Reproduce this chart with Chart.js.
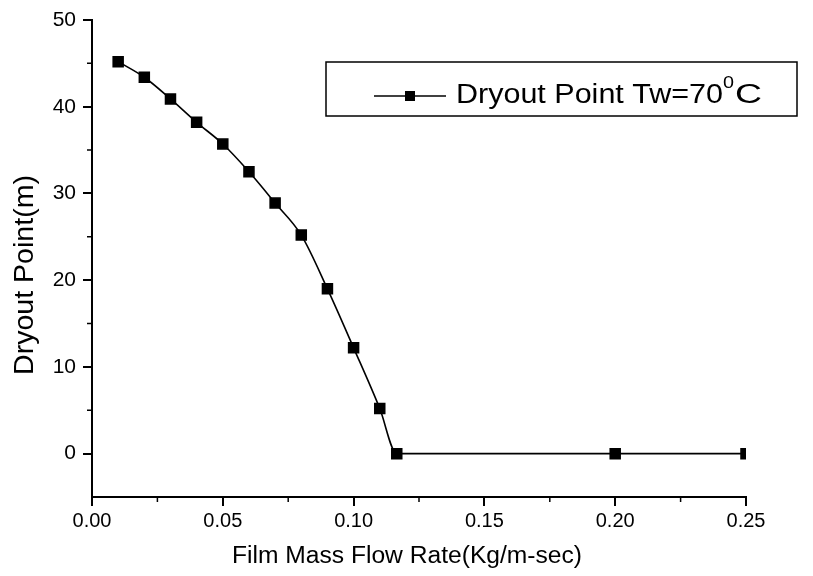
<!DOCTYPE html>
<html>
<head>
<meta charset="utf-8">
<script src="https://cdn.jsdelivr.net/npm/chart.js@4/dist/chart.umd.min.js"></script>
<style>
  html, body { margin: 0; padding: 0; background: #fff; }
  #wrap { width: 813px; height: 576px; }
</style>
</head>
<body>
<div id="wrap"><canvas id="myChart" width="813" height="576"></canvas></div>
<script>
const flowRate = [0.01, 0.02, 0.03, 0.04, 0.05, 0.06, 0.07, 0.08, 0.09, 0.10, 0.11, 0.1165, 0.20, 0.25];
const dryoutPoint = [45.2, 43.4, 40.9, 38.2, 35.7, 32.5, 28.9, 25.2, 19.0, 12.2, 5.2, 0, 0, 0];
const xTicks = [0, 0.05, 0.10, 0.15, 0.20, 0.25];
const yTicks = [0, 10, 20, 30, 40, 50];
const xMinor = [0.025, 0.075, 0.125, 0.175, 0.225];
const yMinor = [5, 15, 25, 35, 45];
const xTitle = "Film Mass Flow Rate(Kg/m-sec)";
const yTitle = "Dryout Point(m)";

const FONT = "'Liberation Sans', Arial, sans-serif";

// text drawn to a given width (the scan is a bit stretched sideways)
function fitText(ctx, text, x, y, width) {
    const w = ctx.measureText(text).width;
    ctx.save();
    ctx.translate(x, y);
    ctx.scale(width / w, 1);
    ctx.fillText(text, 0, 0);
    ctx.restore();
}

// minor ticks, axis titles and the in-plot legend box
const extras = {
    id: "extras",
    afterDraw(chart) {
        const ctx = chart.ctx;
        const xs = chart.scales.x, ys = chart.scales.y;
        const area = chart.chartArea;
        ctx.save();
        ctx.strokeStyle = "#000";
        ctx.fillStyle = "#000";
        ctx.lineWidth = 1.5;
        ctx.beginPath();
        xMinor.forEach(v => {
            const px = xs.getPixelForValue(v);
            ctx.moveTo(px, area.bottom);
            ctx.lineTo(px, area.bottom + 5);
        });
        yMinor.forEach(v => {
            const py = ys.getPixelForValue(v);
            ctx.moveTo(area.left, py);
            ctx.lineTo(area.left - 5, py);
        });
        ctx.stroke();

        // axis titles
        ctx.textBaseline = "alphabetic";
        ctx.textAlign = "left";
        ctx.font = "23px " + FONT;
        fitText(ctx, xTitle, 232, 563, 350);
        ctx.save();
        ctx.translate(33, 375);
        ctx.rotate(-Math.PI / 2);
        ctx.font = "27px " + FONT;
        fitText(ctx, yTitle, 0, 0, 200);
        ctx.restore();

        // legend
        ctx.strokeRect(326, 62, 471, 54);
        ctx.beginPath();
        ctx.moveTo(374, 96);
        ctx.lineTo(446, 96);
        ctx.stroke();
        ctx.fillRect(405, 91, 10, 10);
        const main = chart.data.datasets[0].label;
        ctx.font = "27px " + FONT;
        fitText(ctx, main, 456, 103, 267);
        ctx.font = "17px " + FONT;
        fitText(ctx, "0", 723, 88, 11);
        ctx.font = "27px " + FONT;
        fitText(ctx, "C", 735, 103, 27);
        ctx.restore();
    }
};

new Chart(document.getElementById("myChart"), {
    type: "line",
    data: {
        datasets: [{
            label: "Dryout Point Tw=70",
            data: flowRate.map((x, i) => ({ x: x, y: dryoutPoint[i] })),
            borderColor: "#000",
            backgroundColor: "#000",
            borderWidth: 1.6,
            pointStyle: "rect",
            pointRadius: 7,
            pointHoverRadius: 7,
            cubicInterpolationMode: "monotone",
        }],
    },
    options: {
        responsive: false,
        animation: false,
        events: [],
        layout: { padding: { top: 20, right: 67, left: 0, bottom: 0 } },
        plugins: { legend: { display: false }, tooltip: { enabled: false } },
        scales: {
            x: {
                type: "linear",
                min: 0,
                max: 0.25,
                afterBuildTicks: s => { s.ticks = xTicks.map(v => ({ value: v })); },
                afterFit: s => { s.height = 79; },
                border: { color: "#000", width: 2 },
                grid: { drawOnChartArea: false, drawTicks: true, tickLength: 9, color: "#000", lineWidth: 2 },
                ticks: {
                    color: "#000",
                    padding: 3,
                    font: { family: FONT, size: 20 },
                    callback: v => v.toFixed(2),
                    maxRotation: 0,
                },
                title: { display: false, text: xTitle },
            },
            y: {
                type: "linear",
                min: -5,
                max: 50,
                afterBuildTicks: s => { s.ticks = yTicks.map(v => ({ value: v })); },
                afterFit: s => { s.width = 92; },
                border: { color: "#000", width: 2 },
                grid: { drawOnChartArea: false, drawTicks: true, tickLength: 9, color: "#000", lineWidth: 2 },
                ticks: {
                    color: "#000",
                    padding: 7,
                    font: { family: FONT, size: 21 },
                },
                title: { display: false, text: yTitle },
            },
        },
    },
    plugins: [extras],
});
</script>
</body>
</html>
